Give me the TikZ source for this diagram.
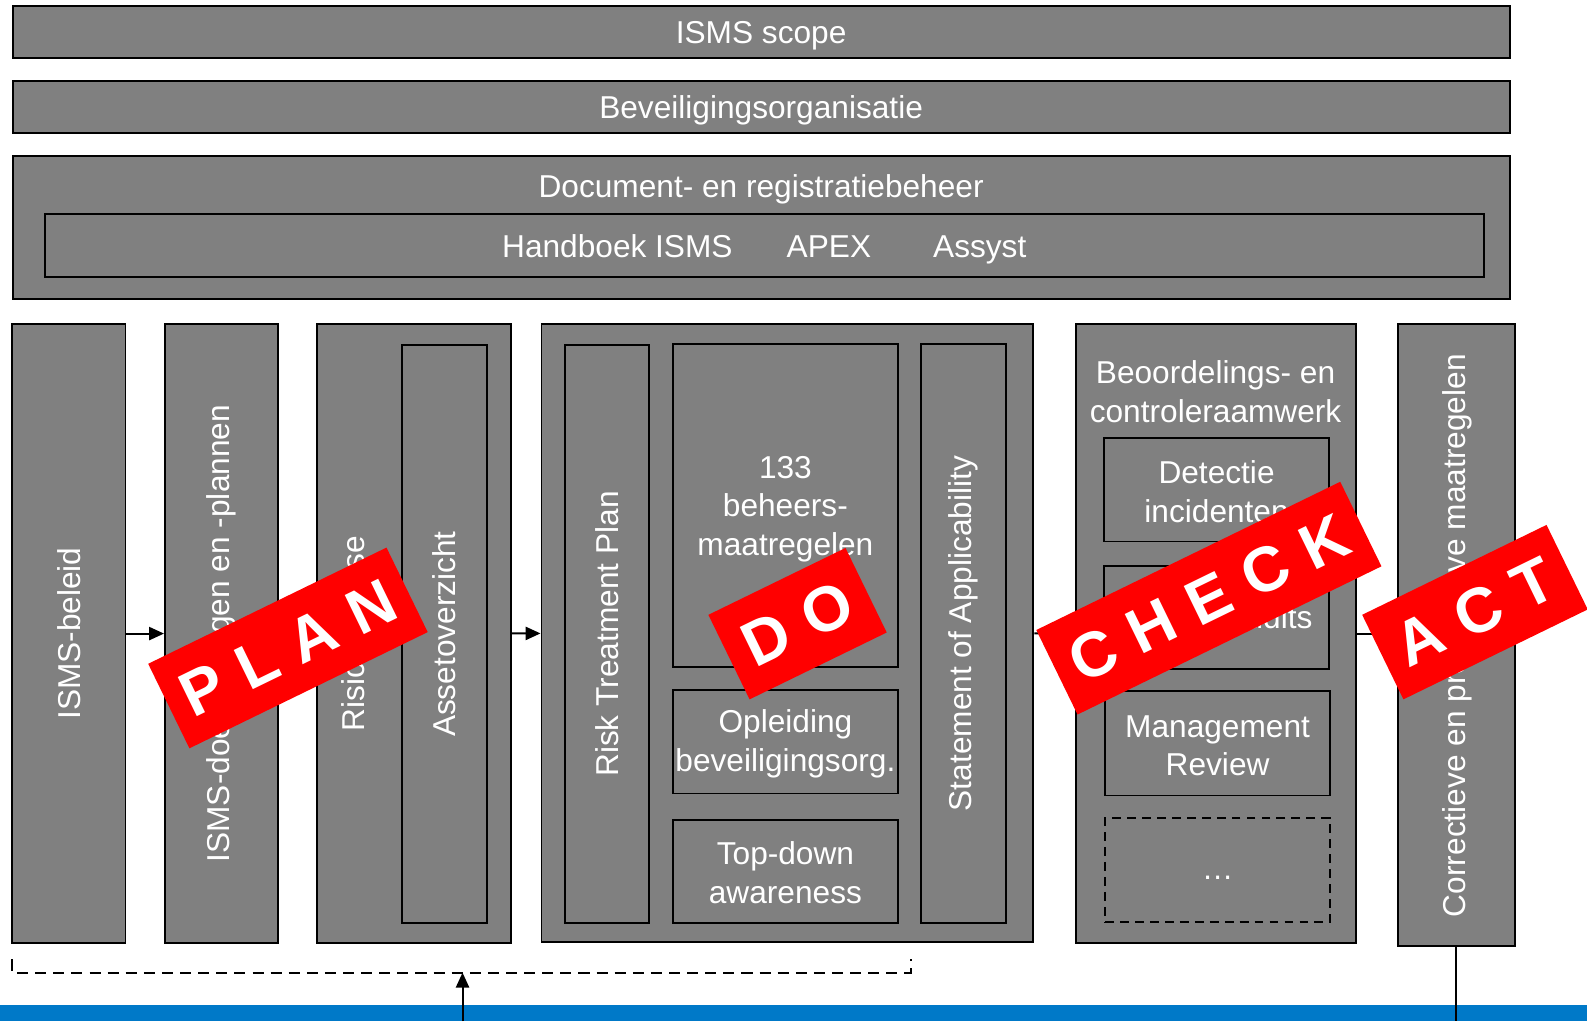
\documentclass[tikz,border=0pt]{standalone}
\usepackage{fontspec}
\setmainfont{Liberation Sans}
\usepackage{tikz}
\usetikzlibrary{positioning, arrows.meta, fit}
\definecolor{boxgray}{HTML}{808080}
\definecolor{stampred}{HTML}{FF0000}
\definecolor{barblue}{HTML}{0079C8}
\newcommand{\boxfont}{\fontsize{18}{21.9}\selectfont}
\newcommand{\stampfont}{\fontsize{36}{40}\selectfont\bfseries}
\newcommand{\lsp}{\hspace{0.39cm}}

\begin{document}
\begin{tikzpicture}[
  x=0.02024cm, y=-0.02024cm,
  box/.style={draw=black, line width=1.1pt, fill=boxgray, inner sep=0pt},
  dashbox/.style={box, dashed, dash pattern=on 5pt off 3.5pt},
  vlabel/.style={rotate=90, text=white, font=\boxfont, inner sep=0pt},
  tlabel/.style={text=white, font=\boxfont, align=center, inner sep=0pt},
  arrow/.style={-{Triangle[length=8.5pt,width=7.5pt]}, line width=1.1pt},
  stamp/.style={fill=stampred, text=white, font=\stampfont, rotate=26,
                minimum height=1.88cm, inner sep=0pt},
]
  \useasboundingbox (0,0) rectangle (1568,1009);
  % Top bars
  \node[box, fit={(13,6) (1492,57)}] (scope) {};
  \node[tlabel, anchor=base] (scopetxt) at (752,43) {ISMS scope};
  \node[box, fit={(13,80) (1492,131)}] (org) {};
  \node[tlabel, anchor=base] (orgtxt) at (752,117) {Beveiligingsorganisatie};
  \node[box, fit={(13,154) (1492,295)}] (docbar) {};
  \node[tlabel, anchor=base] (doctitle) at (752,195) {Document- en registratiebeheer};
  \node[box, fit={(44,211) (1466,274)}] (docinner) {};
  \node[tlabel, anchor=base] (handboek) at (610,254) {Handboek ISMS};
  \node[tlabel, anchor=base] (apex) at (819,254) {APEX};
  \node[tlabel, anchor=base] (assyst) at (968,254) {Assyst};

  % Plan columns
  \node[box, fit={(12,320) (124,932)}] (beleid) {};
  \node[vlabel] (beleidtxt) at (beleid) {ISMS-beleid};
  \node[box, fit={(163,320) (275,932)}] (doelen) {};
  \node[vlabel] (doelentxt) at (doelen) {ISMS-doelstellingen en -plannen};
  \node[box, fit={(313,320) (505,932)}] (risico) {};
  \node[vlabel] (risicotxt) at (352,626) {Risicoanalyse};
  \node[box, fit={(397,341) (481,912)}] (assets) {};
  \node[vlabel] (assetstxt) at (assets) {Assetoverzicht};

  % Do column
  \node[box, fit={(535,320) (1021,931)}] (dobox) {};
  \node[box, fit={(558,341) (641,912)}] (rtp) {};
  \node[vlabel] (rtptxt) at (rtp) {Risk Treatment Plan};
  \node[box, fit={(665,340) (887,659)}] (controls) {};
  \node[tlabel] (controlstxt) at (776,503) {133\\beheers-\\maatregelen};
  \node[box, fit={(665,682) (887,784)}] (training) {};
  \node[tlabel] (trainingtxt) at (776,735) {Opleiding\\beveiligingsorg.};
  \node[box, fit={(665,810) (887,912)}] (awareness) {};
  \node[tlabel] (awarenesstxt) at (776,862) {Top-down\\awareness};
  \node[box, fit={(910,340) (994,912)}] (soa) {};
  \node[vlabel] (soatxt) at (soa) {Statement of Applicability};

  % Check column
  \node[box, fit={(1063,320) (1340,932)}] (check) {};
  \node[tlabel] (checktitle) at (1201,387) {Beoordelings- en\\controleraamwerk};
  \node[box, fit={(1091,433) (1313,535)}] (detectie) {};
  \node[tlabel] (detectietxt) at (1202,486) {Detectie\\incidenten};
  \node[box, fit={(1091,559) (1313,661)}] (audits) {};
  \node[tlabel] (auditstxt) at (audits) {Interne audits};
  \node[box, fit={(1092,683) (1314,786)}] (review) {};
  \node[tlabel] (reviewtxt) at (1203,737) {Management\\Review};
  \node[dashbox, fit={(1092,808) (1314,911)}] (more) {};
  \node[tlabel, anchor=base] (moretxt) at (1203,869) {…};

  % Act column
  \node[box, fit={(1381,320) (1497,935)}] (act) {};
  \node[vlabel] (acttxt) at (1440,628) {Correctieve en preventieve maatregelen};

  % Arrows
  \draw[arrow] (beleid) -- (doelen);
  \draw[arrow] (risico) -- (dobox);
  \draw[arrow] (dobox) -- (check);
  \draw[arrow] (check.east) -- (check.east -| act.west);

  % Feedback
  \coordinate (brL) at (12,948);
  \coordinate (brR) at (900,948);
  \coordinate (fbin) at (457,1009);
  \coordinate (fbtip) at (457,961);
  \draw[line width=1.1pt, dash pattern=on 6.3pt off 4pt]
    (brL) -- (brL |- fbtip) -- (brR |- fbtip) -- (brR);
  \fill[barblue] (0,993) rectangle (1568,1009);
  \draw[arrow] (fbin) -- (fbtip);
  \draw[line width=1.1pt] (act.south) -- (act.south |- fbin);

  % Stamps
  \node[stamp, minimum width=5.30cm] (planstamp) at (284.5,640.2) {P\lsp L\lsp A\lsp N};
  \node[stamp, minimum width=3.05cm] (dostamp) at (788,616.2) {D\lsp O};
  \node[stamp, minimum width=6.76cm] (checkstamp) at (1194.4,591) {C\lsp H\lsp E\lsp C\lsp K};
  \node[stamp, minimum width=4.10cm] (actstamp) at (1457.3,604.8) {A\lsp C\lsp T};
\end{tikzpicture}
\end{document}
